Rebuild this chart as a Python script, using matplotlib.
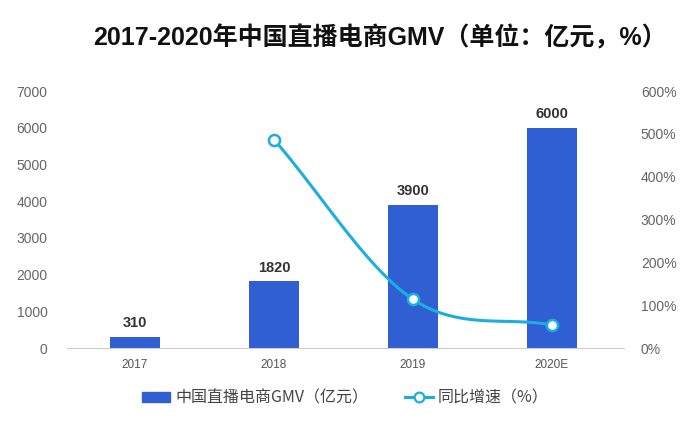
import numpy as np
import matplotlib
matplotlib.use("Agg")
import matplotlib.pyplot as plt
from matplotlib.lines import Line2D
from matplotlib.patches import Patch

years = ["2017", "2018", "2019", "2020E"]
gmv = [310, 1820, 3900, 6000]
growth_years_idx = [1, 2, 3]
growth = [487, 114, 54]
left_ticks = [0, 1000, 2000, 3000, 4000, 5000, 6000, 7000]
right_ticks = [0, 100, 200, 300, 400, 500, 600]

FAM = ["Liberation Sans", "Noto Sans CJK SC", "DejaVu Sans"]
FAM_CJK = ["Noto Sans CJK SC", "DejaVu Sans"]
plt.rcParams["font.family"] = FAM

bar_color = "#2f5fd2"
line_color = "#1daee0"

fig = plt.figure(figsize=(6.95, 4.24), dpi=100)
ax = fig.add_axes([0.0964, 0.179, 0.8016, 0.606])
x = np.arange(len(years))
ax.bar(x, gmv, width=0.36, color=bar_color, zorder=2)
for xi, v in zip(x, gmv):
    ax.text(xi, v + 180, str(v), ha="center", va="bottom", fontsize=10.5,
            fontweight="bold", color="#333333")
ax.set_xlim(-0.49, 3.52)
ax.set_ylim(0, 7000)
ax.set_yticks(left_ticks)
ax.set_xticks(x)
ax.set_xticklabels(years, fontsize=8.5, color="#555555")
ax.tick_params(axis="y", length=0, pad=14, labelsize=10, labelcolor="#666666")
ax.tick_params(axis="x", length=0, pad=8)
for s in ["left", "right", "top"]:
    ax.spines[s].set_visible(False)
ax.spines["bottom"].set_color("#cccccc")

ax2 = ax.twinx()
ax2.set_ylim(0, 600)
ax2.set_yticks(right_ticks)
ax2.set_yticklabels([f"{t}%" for t in right_ticks])
ax2.tick_params(axis="y", length=0, pad=12, labelsize=10, labelcolor="#666666")
for s in ["left", "right", "top", "bottom"]:
    ax2.spines[s].set_visible(False)

# smooth (Catmull-Rom) curve through growth points
px = np.array(growth_years_idx, dtype=float)
py = np.array(growth, dtype=float)
P = np.column_stack([px, py])
ext = np.vstack([P[0] - (P[1] - P[0]), P, P[-1] + (P[-1] - P[-2])])
xs, ys = [], []
for i in range(1, len(ext) - 2):
    p0, p1, p2, p3 = ext[i - 1], ext[i], ext[i + 1], ext[i + 2]
    t = np.linspace(0, 1, 60)[:, None]
    c = 0.5 * ((2 * p1) + (-p0 + p2) * t + (2 * p0 - 5 * p1 + 4 * p2 - p3) * t ** 2
               + (-p0 + 3 * p1 - 3 * p2 + p3) * t ** 3)
    xs.extend(c[:, 0]); ys.extend(c[:, 1])
ax2.plot(xs, ys, color=line_color, lw=2.2, zorder=3)
ax2.plot(px, py, "o", ms=8, mfc="white", mec=line_color, mew=1.8, zorder=4)

fig.text(0.546, 0.91, "2017-2020年中国直播电商GMV（单位：亿元，%）", ha="center",
         va="center", fontsize=18, fontweight="bold", color="#111111",
         family=FAM)

handles = [Patch(color=bar_color),
           Line2D([0], [0], color=line_color, lw=2.2, marker="o", ms=7,
                  mfc="white", mec=line_color, mew=1.6)]
labels = ["中国直播电商GMV（亿元）", "同比增速（%）"]
fig.legend(handles, labels, loc="center", bbox_to_anchor=(0.497, 0.061), ncol=2,
           frameon=False, prop={"family": FAM_CJK, "size": 11.5},
           handlelength=1.75, handleheight=0.6, handletextpad=0.3,
           columnspacing=2.3, labelcolor="#444444")

fig.savefig("out.png", dpi=100, facecolor="white")
